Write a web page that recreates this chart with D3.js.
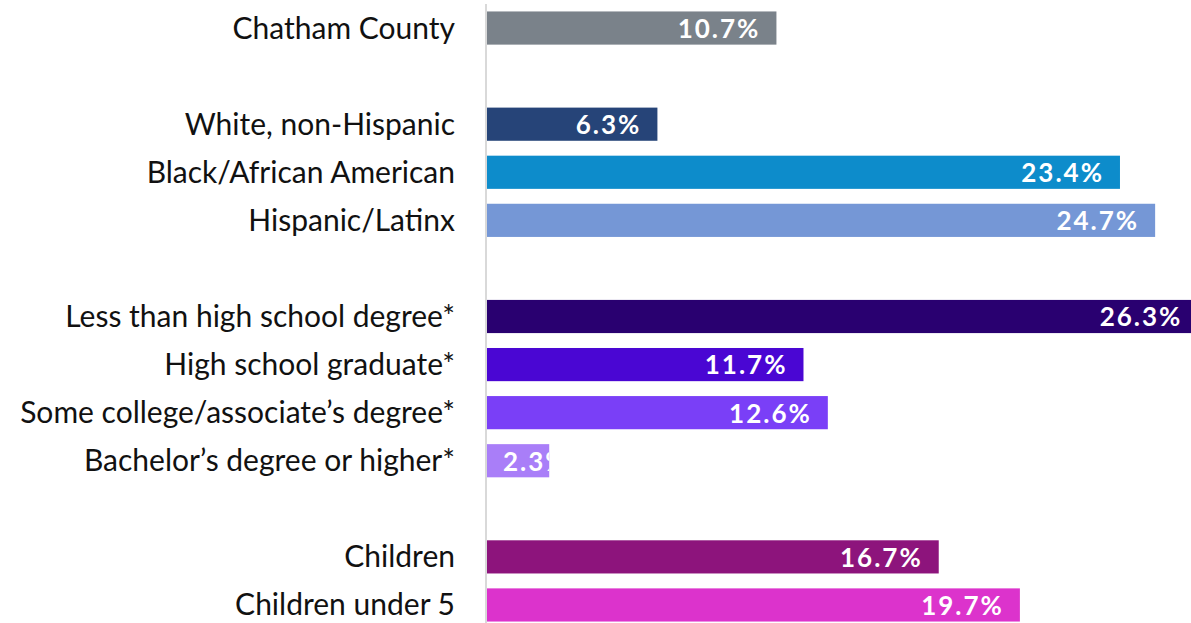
<!DOCTYPE html>
<html><head><meta charset="utf-8">
<script src="https://cdn.jsdelivr.net/npm/d3@7"></script>
<style>body{margin:0;background:#fff;overflow:hidden}svg{display:block}</style>
</head><body>
<svg id="c" width="1191" height="623"></svg>
<script>
const categories = ["Chatham County","","White, non-Hispanic","Black/African American","Hispanic/Latinx","","Less than high school degree*","High school graduate*","Some college/associate\u2019s degree*","Bachelor\u2019s degree or higher*","","Children","Children under 5"];
const values = [10.7,null,6.3,23.4,24.7,null,26.3,11.7,12.6,2.3,null,16.7,19.7];
const colors = ["#7a828a",null,"#264478","#0d8ccb","#7597d6",null,"#290070","#4a06d3","#7a3ff7","#a97ef8",null,"#8d147c","#dc33cc"];
const keys = categories.map((c,i)=>"k"+i);

const svg = d3.select("#c");
const x0 = 486;
const x = d3.scaleLinear().domain([0,26.3]).range([x0+1, x0+1+26.3*27.05]);
const y = d3.scaleBand().domain(keys).range([4,629]).paddingInner(0.31).paddingOuter(0.155);

const rows = keys.map((k,i)=>({k,label:categories[i],v:values[i],c:colors[i],i})).filter(d=>d.v!=null);

const defs = svg.append("defs");
rows.forEach(d=>{
  defs.append("clipPath").attr("id","cp"+d.i).append("rect")
    .attr("x",x(0)).attr("y",y(d.k)).attr("width",x(d.v)-x(0)).attr("height",y.bandwidth());
});

svg.selectAll("rect.bar").data(rows).enter().append("rect").attr("class","bar")
  .attr("x",x(0)).attr("y",d=>y(d.k)).attr("width",d=>x(d.v)-x(0)).attr("height",y.bandwidth())
  .attr("fill",d=>d.c);

svg.append("line").attr("x1",x0).attr("x2",x0).attr("y1",4).attr("y2",623)
  .attr("stroke","#d9d9d9").attr("stroke-width",2);

svg.selectAll("text.cat").data(rows).enter().append("text").attr("class","cat")
  .attr("x",x0-31).attr("y",d=>y(d.k)+y.bandwidth()/2).attr("dy","0.35em")
  .attr("text-anchor","end").attr("font-family","Lato, 'Open Sans', sans-serif")
  .attr("font-size",30).attr("fill","#111").text(d=>d.label);

svg.selectAll("text.val").data(rows).enter().append("text").attr("class","val")
  .attr("clip-path",d=>"url(#cp"+d.i+")")
  .attr("y",d=>y(d.k)+y.bandwidth()/2).attr("dy","0.38em")
  .attr("text-anchor","start").attr("font-family","Lato, 'Open Sans', sans-serif")
  .attr("font-weight","bold").attr("font-size",26).attr("letter-spacing",2).attr("fill","#fff")
  .text(d=>d.v.toFixed(1)+"%")
  .each(function(d){
    const w = this.getComputedTextLength() - 2;
    d3.select(this).attr("x", Math.max(x(0)+16, x(d.v)-18-w));
  });
</script>
</body></html>
